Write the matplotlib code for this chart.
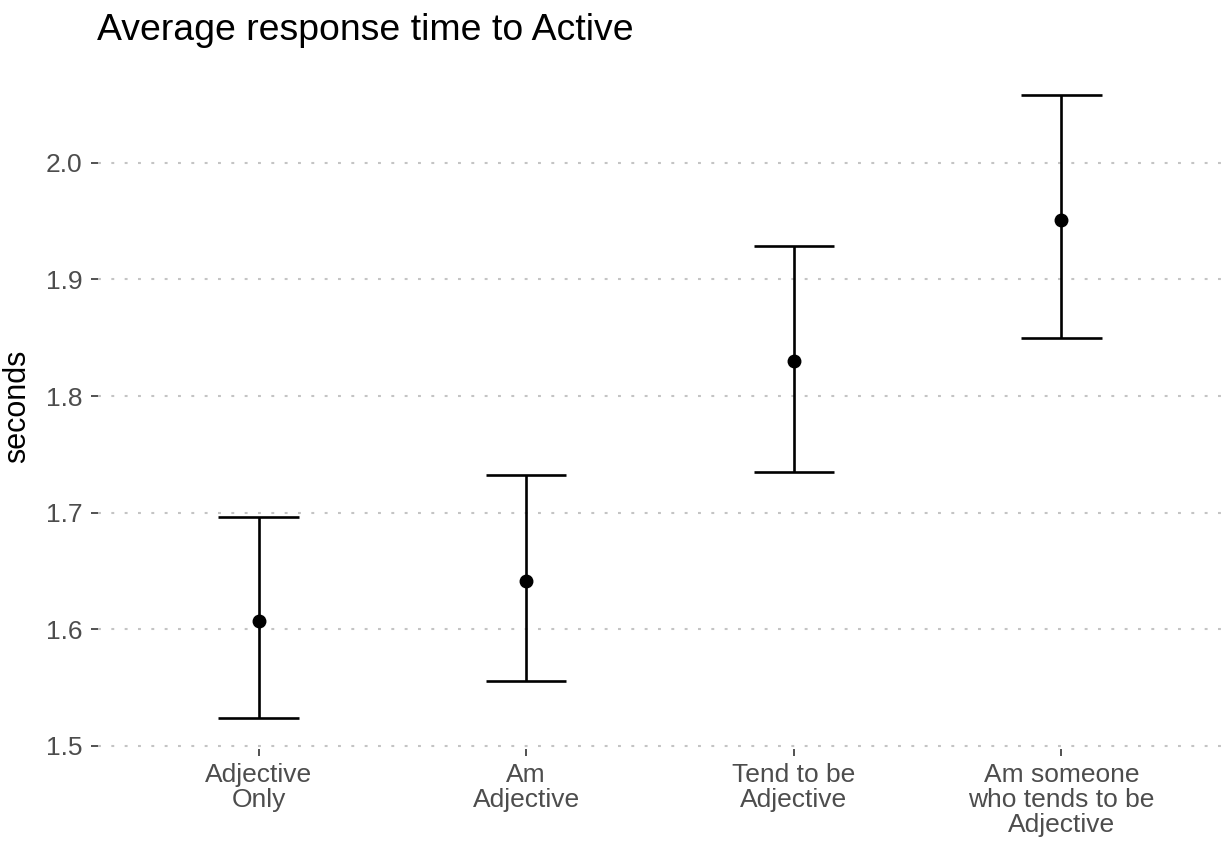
import matplotlib
matplotlib.use("Agg")
import matplotlib.pyplot as plt
import numpy as np

plt.rcParams['font.family'] = ['Liberation Sans', 'DejaVu Sans']

categories = ["Adjective\nOnly", "Am\nAdjective", "Tend to be\nAdjective", "Am someone\nwho tends to be\nAdjective"]
means = [1.607, 1.641, 1.830, 1.951]
lower = [1.524, 1.556, 1.735, 1.850]
upper = [1.696, 1.732, 1.929, 2.058]
yticks = [1.5, 1.6, 1.7, 1.8, 1.9, 2.0]

fig = plt.figure(figsize=(12.25, 8.48), dpi=100)
ax = fig.add_axes([0.080, 0.1167, 0.9176, 0.8078])

x = np.arange(1, len(categories) + 1)
cap = 0.15
ax.vlines(x, lower, upper, color='black', lw=1.9, zorder=3)
ax.hlines(lower, x - cap, x + cap, color='black', lw=1.9, zorder=3)
ax.hlines(upper, x - cap, x + cap, color='black', lw=1.9, zorder=3)
ax.plot(x, means, 'o', color='black', ms=9, zorder=4)

ax.set_xlim(0.4, len(categories) + 0.6)
lo, hi = min(lower), max(upper)
r = hi - lo
ax.set_ylim(lo - 0.05 * r, hi + 0.05 * r)

ax.set_yticks(yticks)
ax.set_yticklabels([f"{v:.1f}" for v in yticks])
ax.set_xticks(x)
ax.set_xticklabels(categories, linespacing=1.05)

for s in ax.spines.values():
    s.set_visible(False)
ax.yaxis.grid(True, color='#c4c4c4', lw=1.5, linestyle=(0, (1.4, 5.0)))
ax.xaxis.grid(False)
ax.set_axisbelow(True)

ax.tick_params(axis='both', length=5, width=1.2, color='#333333',
               labelcolor='#4d4d4d', labelsize=19)
ax.tick_params(axis='y', pad=6)
ax.tick_params(axis='x', pad=5)

ax.set_ylabel("seconds", fontsize=22, color='black', labelpad=10)
fig.text(97 / 1225, 1 - 30 / 848, "Average response time to Active", fontsize=26.9,
         color='black', ha='left', va='center')

fig.savefig("out.png", dpi=100)
